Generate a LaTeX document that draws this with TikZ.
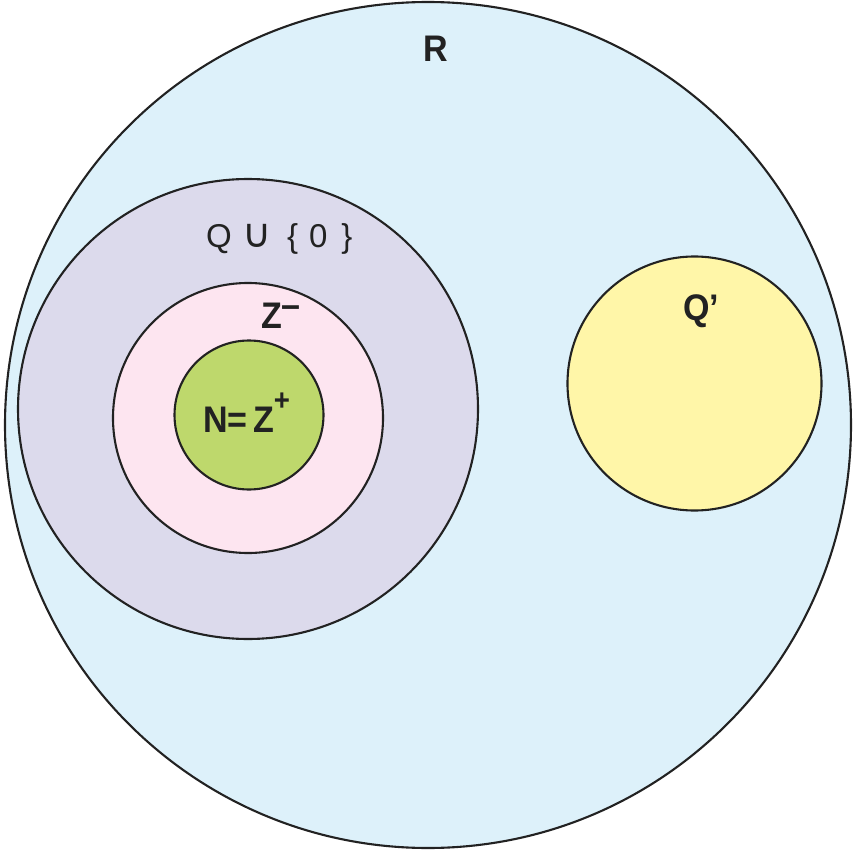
\documentclass[tikz,border=0pt]{standalone}
\usepackage{fontspec}
\setmainfont{Liberation Sans}
\newfontfamily\symfont{DejaVu Sans}
\definecolor{cR}{HTML}{DDF1FA}
\definecolor{cQ}{HTML}{DCDAEC}
\definecolor{cZ}{HTML}{FDE5F0}
\definecolor{cN}{HTML}{BED86C}
\definecolor{cI}{HTML}{FFF6A8}
\definecolor{ink}{HTML}{222222}
\newcommand{\cnd}[1]{\scalebox{0.92}[1]{#1}}
\begin{document}
\begin{tikzpicture}[x=1pt,y=-1pt,
  setc/.style={circle, draw=ink, line width=2.1pt, inner sep=0pt, outer sep=0pt},
  lbl/.style={font=\fontsize{37}{37}\selectfont\bfseries, text=ink, inner sep=0pt},
  lblr/.style={font=\fontsize{33}{33}\selectfont, text=ink, inner sep=0pt}]
\useasboundingbox (0,0) rectangle (855,851);
\node[setc, fill=cR, minimum size=846pt] (R) at (428,425) {};
\node[setc, fill=cQ, minimum size=460pt] (Q) at (248,409) {};
\node[setc, fill=cZ, minimum size=270pt] (Z) at (248,418) {};
\node[setc, fill=cN, minimum size=149pt] (N) at (249,415) {};
\node[setc, fill=cI, minimum size=254pt] (I) at (694.5,383.5) {};
\node[lbl, anchor=base west] (Rl) at (423,62) {\cnd{R}};
\node[lblr, anchor=base west] (Ql) at (206,247) {Q\hspace{11pt}{\symfont\fontsize{40}{40}\selectfont ∪}\hspace{15pt}\{\hspace{11pt}0\hspace{14pt}\}};
\node[lbl, anchor=base west] (Zl) at (261,328) {\cnd{Z\hspace{0pt}\raisebox{11pt}{–}}};
\node[lbl, anchor=base west] (Nl) at (203,432) {\cnd{N=\hspace{6pt}Z\hspace{0pt}\raisebox{22pt}{\fontsize{30}{30}\selectfont +}}};
\node[lbl, anchor=base west] (Il) at (683,320) {\cnd{Q’}};
\end{tikzpicture}
\end{document}
